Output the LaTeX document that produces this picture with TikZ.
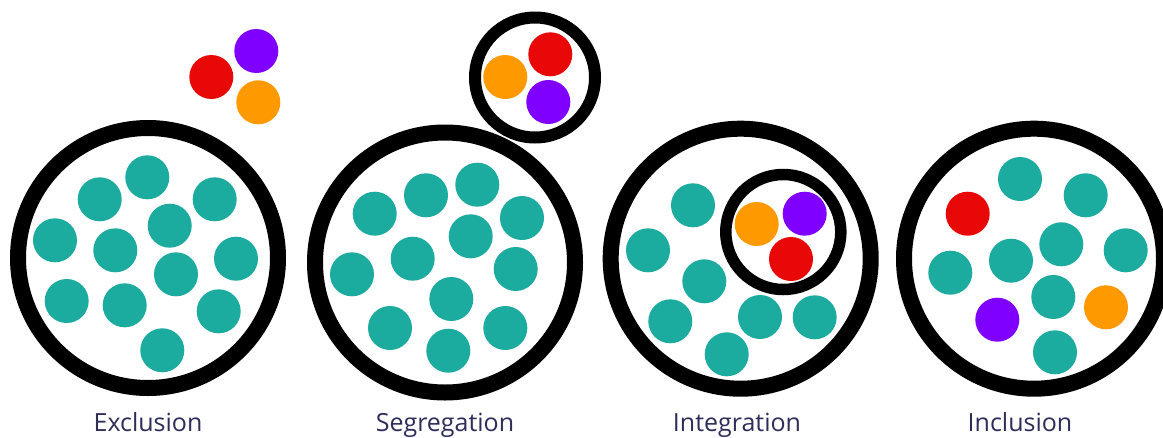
\documentclass[tikz,border=0pt]{standalone}
\usepackage{fontspec}
\setmainfont{Open Sans}
\definecolor{teal1}{RGB}{27,171,159}
\definecolor{red1}{RGB}{232,8,8}
\definecolor{purple1}{RGB}{127,0,255}
\definecolor{orange1}{RGB}{255,153,0}
\definecolor{navy1}{RGB}{45,45,90}
\tikzset{
  bigring/.style={draw=black,line width=16pt,fill=white},
  smallring/.style={draw=black,line width=12pt,fill=white},
  label1/.style={anchor=base,text=navy1,font=\fontsize{25}{30}\selectfont,inner sep=0pt}
}
\newcommand{\tdot}[2]{\fill[teal1] (#1,#2) circle (22);}
\begin{document}
\begin{tikzpicture}[x=1pt,y=-1pt]
\useasboundingbox (0,0) rectangle (1163,437);
% ---- Exclusion
\draw[bigring] (148,258) circle (130);
\foreach \a/\b in {147.3/177.3,99.7/199.3,214.7/199.3,169.7/225.7,55/240.3,115.3/250.3,236/258.7,176/274.3,66.7/301,124.7/305.3,218.7/311.3,162.3/350.3}
  {\tdot{\a}{\b}}
\fill[purple1] (256.3,51) circle (22);
\fill[red1] (211.3,77) circle (22);
\fill[orange1] (258.3,102.3) circle (22);
\node[label1] (lexc) at (148,431.7) {Exclusion};
% ---- Segregation
\draw[bigring] (445,262.5) circle (130);
\draw[smallring] (535,77.5) circle (60);
\fill[red1] (550.3,54.3) circle (22);
\fill[orange1] (505.3,77) circle (22);
\fill[purple1] (548.3,102) circle (22);
\foreach \a/\b in {374.7/213.7,426/195.3,477.3/184.7,522/218,470.7/236.3,412.7/258.7,352/274.3,515.7/269,451.3/299,390/328,505.3/328,448.3/350.7}
  {\tdot{\a}{\b}}
\node[label1] (lseg) at (445,431.7) {Segregation};
% ---- Integration
\draw[bigring] (740.7,258.7) circle (130);
\draw[smallring,line width=11.5pt] (783.3,232) circle (57.5);
\fill[orange1] (756.7,224) circle (22);
\fill[purple1] (804.7,213.7) circle (22);
\fill[red1] (791,259) circle (22);
\foreach \a/\b in {693/205.3,648/250.3,704.3/281.3,670.3/321.3,760/317,814.7/317.3,726.7/354.3}
  {\tdot{\a}{\b}}
\node[label1] (lint) at (737,431.7) {Integration};
% ---- Inclusion
\draw[bigring] (1034,258.7) circle (130);
\foreach \a/\b in {1020/179,1085.7/195.3,1061.3/244.3,1125.7/250.3,1011/260.7,950.3/272.7,1053.3/297,1055/352.3}
  {\tdot{\a}{\b}}
\fill[red1] (967.7,213.7) circle (22);
\fill[orange1] (1106,307.3) circle (22);
\fill[purple1] (997.3,319.7) circle (22);
\node[label1] (linc) at (1020,431.7) {Inclusion};
\end{tikzpicture}
\end{document}
